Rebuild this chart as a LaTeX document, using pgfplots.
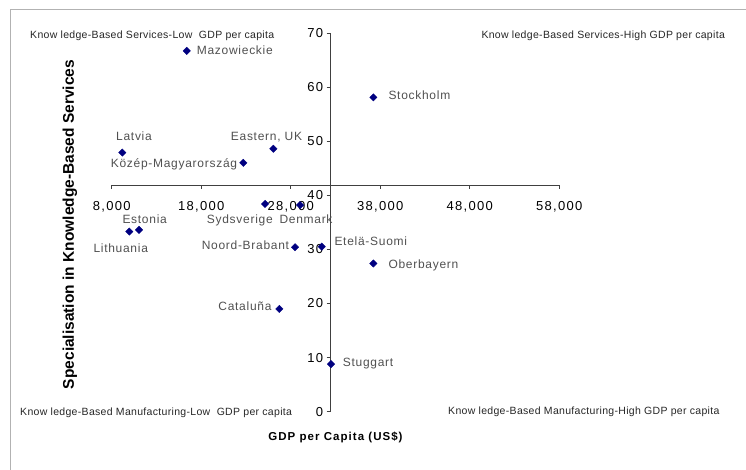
\documentclass[border=0pt]{standalone}
\usepackage{fontspec}
\setmainfont{Liberation Sans}
\usepackage{pgfplots}
\pgfplotsset{compat=1.18}
\newfontfamily\tickf[LetterSpace=10]{Liberation Sans}
\newfontfamily\ptf[LetterSpace=6]{Liberation Sans}
\newfontfamily\quadf[LetterSpace=3]{Liberation Sans}
\newfontfamily\xlabf[LetterSpace=9]{Liberation Sans}
\definecolor{navy}{HTML}{000080}
\definecolor{lblgray}{HTML}{505050}
\begin{document}
\begin{tikzpicture}
\draw[gray!60, line width=1pt] (10pt,0pt) -- (10pt,460pt) -- (746pt,460pt);
\begin{axis}[
  at={(111.7pt,58.3pt)}, anchor=south west,
  scale only axis, width=447.6pt, height=378.7pt,
  xmin=8000, xmax=58000, ymin=0, ymax=70,
  axis x line*=bottom, axis y line*=left,
  axis x line shift=-226.7pt, axis y line shift=-219pt,
  scaled x ticks=false, scaled y ticks=false,
  xtick={8000,18000,28000,38000,48000,58000},
  xticklabels={{8,000},{18,000},{28,000},{38,000},{48,000},{58,000}},
  ytick={0,10,20,30,40,50,60,70},
  yticklabels={0,10,20,30,40,50,60,70},
  tick align=outside, major tick length=4pt,
  axis line style={black!75, line width=0.8pt},
  tick style={black!75, line width=0.8pt},
  ticklabel style={font=\tickf\fontsize{13}{15}\selectfont},
  xticklabel style={yshift=-9pt},
  clip=false,
]
\addplot[only marks, mark=square*, mark size=2.6pt, mark options={rotate=45}, color=navy] coordinates {
(16380,66.7) (9184,47.9) (26056,48.6) (22704,46.0) (37228,58.1)
(25128,38.4) (29039,38.2) (9966,33.3) (11050,33.6) (28480,30.4)
(31463,30.5) (37228,27.4) (26726,19.0) (32502,8.8)
};
\end{axis}
% point labels
\begin{scope}[every node/.style={inner sep=0pt, text=lblgray, font=\ptf\fontsize{12}{14}\selectfont}]
\node[anchor=base west] at (196.7pt,415.1pt) {Mazowieckie};
\node[anchor=base west] at (116pt,329.1pt) {Latvia};
\node[anchor=base west] at (230.7pt,329.8pt) {Eastern, UK};
\node[anchor=base east] at (237.3pt,302.5pt) {Közép-Magyarország};
\node[anchor=base west] at (388.3pt,370.1pt) {Stockholm};
\node[anchor=base west] at (206.7pt,246.5pt) {Sydsverige};
\node[anchor=base west] at (279.3pt,246.5pt) {Denmark};
\node[anchor=base west] at (122.3pt,246.8pt) {Estonia};
\node[anchor=base west] at (93.3pt,217.5pt) {Lithuania};
\node[anchor=base east] at (289.3pt,220.8pt) {Noord-Brabant};
\node[anchor=base west] at (334.3pt,224.1pt) {Etelä-Suomi};
\node[anchor=base west] at (388.3pt,201.8pt) {Oberbayern};
\node[anchor=base east] at (271.7pt,159.8pt) {Cataluña};
\node[anchor=base west] at (342.7pt,103.5pt) {Stuggart};
\end{scope}
% quadrant labels
\begin{scope}[every node/.style={inner sep=0pt, text=black!85, font=\quadf\fontsize{10.5}{12}\selectfont, anchor=base west}]
\node at (30pt,431.9pt) {Know ledge-Based Services-Low~~GDP per capita};
\node at (481.3pt,431.9pt) {Know ledge-Based Services-High GDP per capita};
\node at (20pt,54.5pt) {Know ledge-Based Manufacturing-Low~~GDP per capita};
\node at (448pt,55.2pt) {Know ledge-Based Manufacturing-High GDP per capita};
\end{scope}
% axis titles
\node[rotate=90, inner sep=0pt, font=\bfseries\fontsize{15.5}{18}\selectfont] at (70pt,245.5pt) {Specialisation in Knowledge-Based Services};
\node[inner sep=0pt, font=\xlabf\bfseries\fontsize{11.5}{14}\selectfont] at (335.5pt,32.3pt) {GDP per Capita (US\$)};
\pgfresetboundingbox
\path (0pt,0pt) rectangle (746pt,470pt);
\end{tikzpicture}
\end{document}
